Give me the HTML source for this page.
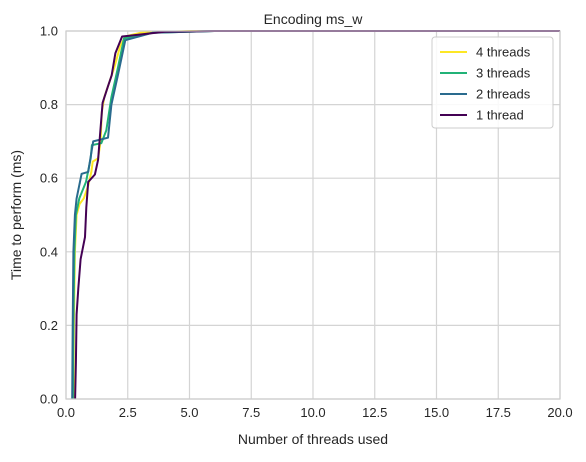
<!DOCTYPE html>
<html><head><meta charset="utf-8"><style>
body{margin:0;background:#fff;font-family:"Liberation Sans","DejaVu Sans",sans-serif;}
svg text{font-family:"Liberation Sans","DejaVu Sans",sans-serif;fill:#262626;}
</style></head><body>
<svg id="chart" width="586" height="457" xmlns="http://www.w3.org/2000/svg">
<g id="grid"></g>
<g id="lines"></g>
<rect x="66" y="31" width="494" height="368" fill="none" stroke="#cccccc" stroke-width="1.2"/>
<g id="ticks"></g>
<text x="313" y="24" font-size="14" text-anchor="middle">Encoding ms_w</text>
<text x="313" y="444" font-size="14" text-anchor="middle">Number of threads used</text>
<text transform="translate(21,215) rotate(-90)" font-size="14" text-anchor="middle">Time to perform (ms)</text>
<g id="legend"></g>
</svg>
<script>
const xTicks=[0,2.5,5,7.5,10,12.5,15,17.5,20];
const xTickLabels=["0.0","2.5","5.0","7.5","10.0","12.5","15.0","17.5","20.0"];
const yTicks=[0,0.2,0.4,0.6,0.8,1.0];
const yTickLabels=["0.0","0.2","0.4","0.6","0.8","1.0"];
const seriesNames=["4 threads","3 threads","2 threads","1 thread"];
const seriesColors=["#fde725","#21b277","#2a6b8e","#440154"];
const s4x=[0.30,0.32,0.36,0.43,0.55,0.72,0.9,1.03,1.08,1.3,1.4,1.45,1.55,1.7,1.95,2.2,2.4,3,5,20];
const s4y=[0,0.2,0.4,0.5,0.53,0.545,0.58,0.618,0.645,0.654,0.7,0.78,0.82,0.85,0.9,0.96,0.985,0.995,1,1];
const s3x=[0.28,0.3,0.34,0.4,0.54,0.81,1.0,1.05,1.43,1.63,1.84,2.1,2.35,3.5,6,20];
const s3y=[0,0.2,0.4,0.5,0.545,0.59,0.654,0.69,0.695,0.73,0.82,0.9,0.98,0.995,1,1];
const s2x=[0.25,0.27,0.3,0.36,0.43,0.63,0.9,1.1,1.7,1.84,2.1,2.4,3.5,6,20];
const s2y=[0,0.2,0.4,0.5,0.545,0.612,0.617,0.70,0.71,0.80,0.88,0.975,0.995,1,1];
const s1x=[0.37,0.4,0.43,0.5,0.59,0.77,0.82,0.9,1.17,1.3,1.38,1.48,1.7,1.85,2.0,2.27,4,6,20];
const s1y=[0,0.1,0.23,0.3,0.38,0.44,0.52,0.59,0.61,0.65,0.72,0.805,0.85,0.88,0.94,0.985,0.998,1,1];
const seriesX=[s4x,s3x,s2x,s1x], seriesY=[s4y,s3y,s2y,s1y];
const L=66,R=560,T=31,B=399;
const sx=v=>L+(v-0)/(20-0)*(R-L);
const sy=v=>B-(v-0)/(1-0)*(B-T);
const NS="http://www.w3.org/2000/svg";
const mk=(t,a)=>{const e=document.createElementNS(NS,t);for(const k in a)e.setAttribute(k,a[k]);return e;};
const grid=document.getElementById('grid'),ticks=document.getElementById('ticks');
xTicks.forEach((v,i)=>{
 const g=mk('line',{x1:sx(v),x2:sx(v),y1:T,y2:B,stroke:'#d4d4d4','stroke-width':1.2});
 
 
 grid.appendChild(g);
 const t=mk('text',{x:sx(v),y:B+18,'font-size':13,'text-anchor':'middle'});
 
 
 t.textContent=xTickLabels[i];ticks.appendChild(t);
});
yTicks.forEach((v,i)=>{
 const g=mk('line',{x1:L,x2:R,y1:sy(v),y2:sy(v),stroke:'#d4d4d4','stroke-width':1.2});
 
 
 grid.appendChild(g);
 const t=mk('text',{x:L-8,y:sy(v)+4.5,'font-size':13,'text-anchor':'end'});
 
 
 t.textContent=yTickLabels[i];ticks.appendChild(t);
});
const lines=document.getElementById('lines');
seriesX.forEach((xs,i)=>{
 const d=xs.map((x,j)=>(j?'L':'M')+sx(x).toFixed(1)+','+sy(seriesY[i][j]).toFixed(1)).join(' ');
 const p=mk('path',{d:d,fill:'none',stroke:seriesColors[i],'stroke-width':2,'stroke-linejoin':'round'});
 
 
 lines.appendChild(p);
});
const lg=document.getElementById('legend');
const box=mk('rect',{x:432,y:37,width:121,height:91,rx:3,fill:'#fff',stroke:'#cccccc','fill-opacity':0.85});


lg.appendChild(box);
seriesNames.forEach((n,i)=>{
 const y=52+i*21;
 const ln=mk('line',{x1:440,x2:467,y1:y,y2:y,stroke:seriesColors[i],'stroke-width':2});
 
 
 lg.appendChild(ln);
 const t=mk('text',{x:476,y:y+4.5,'font-size':13});
 
 
 t.textContent=n;lg.appendChild(t);
});
</script>
</body></html>
